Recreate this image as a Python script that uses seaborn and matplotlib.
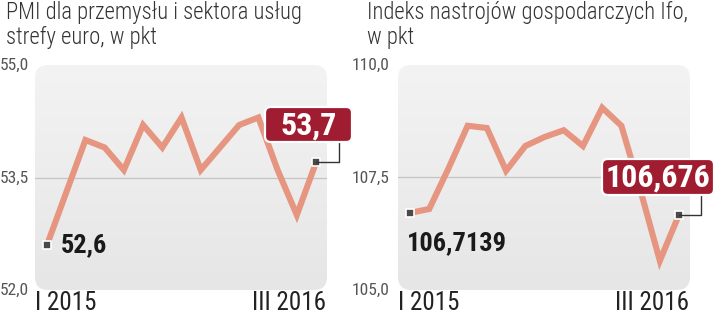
import matplotlib
matplotlib.use("Agg")
import matplotlib.pyplot as plt
from matplotlib.patches import FancyBboxPatch
from matplotlib import font_manager
import seaborn as sns
import pandas as pd
import numpy as np

# ---- data ----
months = list(range(15))  # I 2015 .. III 2016
pmi = [52.6, 53.3, 54.0, 53.9, 53.6, 54.2, 53.9, 54.3, 53.6, 53.9, 54.2, 54.3, 53.6, 53.0, 53.7]
ifo = [106.7139, 106.8, 107.7, 108.65, 108.6, 107.65, 108.2, 108.4, 108.55, 108.2, 109.05, 108.65, 107.2, 105.65, 106.676]
pmi_ticks = [52.0, 53.5, 55.0]
ifo_ticks = [105.0, 107.5, 110.0]
x_labels = ["I 2015", "III 2016"]
titles = ["PMI dla przemysłu i sektora usług\nstrefy euro, w pkt",
          "Indeks nastrojów gospodarczych Ifo,\nw pkt"]
first_labels = ["52,6", "106,7139"]
last_labels = ["53,7", "106,676"]

sns.set_theme(style="white")
names = {f.name for f in font_manager.fontManager.ttflist}
cands = ["Roboto Condensed", "Liberation Sans Narrow", "DejaVu Sans Condensed", "Roboto", "DejaVu Sans"]
FONT = [c for c in cands if c in names] or ["DejaVu Sans"]
CONDENSED = FONT[0] in ("Roboto Condensed", "Liberation Sans Narrow", "DejaVu Sans Condensed")
plt.rcParams["font.family"] = FONT
SC = 1.0 if CONDENSED else 0.85

LINE = "#e69680"
RED = "#a01c30"

W, H = 720, 314
fig = plt.figure(figsize=(W / 100, H / 100), dpi=100)


def fx(px):
    return px / W


def fy(py):
    return 1 - py / H


panels = [
    dict(x0=35, x1=327, vals=pmi, ticks=pmi_ticks, title=titles[0], title_x=6, tick_x=0,
         first=first_labels[0], last=last_labels[0],
         first_off=(10, 0), box=(265, 107, 352, 142), conn_x=339),
    dict(x0=398, x1=690, vals=ifo, ticks=ifo_ticks, title=titles[1], title_x=367, tick_x=352,
         first=first_labels[1], last=last_labels[1],
         first_off=(-2, -22), box=(602, 159, 714, 195), conn_x=701),
]

grad = np.linspace(0, 1, 256).reshape(-1, 1)
cmap = matplotlib.colors.LinearSegmentedColormap.from_list("bg", ["#e6e6e6", "#f3f3f3"])

for p in panels:
    ax = fig.add_axes([fx(p["x0"]), fy(290), fx(p["x1"] - p["x0"]), (290 - 65) / H])
    ax.set_facecolor("none")
    for s in ax.spines.values():
        s.set_visible(False)
    bg = FancyBboxPatch((0, 0), 1, 1, boxstyle="round,pad=0,rounding_size=0.045",
                        transform=ax.transAxes, facecolor="none", edgecolor="none",
                        zorder=0, mutation_aspect=292 / 225)
    ax.add_patch(bg)
    im = ax.imshow(grad, extent=(0, 1, 0, 1), transform=ax.transAxes, cmap=cmap,
                   origin="lower", aspect="auto", zorder=0, interpolation="bilinear")
    im.set_clip_path(bg)
    ax.set_xlim(-0.624, 14.57)
    ax.set_ylim(p["ticks"][0], p["ticks"][-1])
    ax.axhline(p["ticks"][1], color="#c4c4c4", lw=0.9, zorder=1)
    df = pd.DataFrame({"m": months, "v": p["vals"]})
    sns.lineplot(data=df, x="m", y="v", ax=ax, color=LINE, lw=4.4, zorder=3,
                 solid_joinstyle="miter", solid_capstyle="butt")
    ax.set_xticks([])
    ax.set_yticks([])
    ax.set_xlabel("")
    ax.set_ylabel("")
    ax.scatter([months[0], months[-1]], [p["vals"][0], p["vals"][-1]], marker="s", s=28,
               color="#4a4a4a", edgecolor="white", linewidth=1.2, zorder=5)
    ax.annotate(p["first"], (months[0], p["vals"][0]), xytext=p["first_off"],
                textcoords="offset points", ha="left", va="center",
                fontsize=19 * SC, fontweight="bold", color="#1a1a1a",
                family=FONT, zorder=6)
    for t, py in zip(p["ticks"], [290, 178, 65]):
        fig.text(fx(p["tick_x"]), fy(py), f"{t:.1f}".replace(".", ","), ha="left",
                 va="center", fontsize=12.5 * SC, color="#555555", family=FONT)
    fig.text(fx(p["x0"]), fy(303), x_labels[0], ha="left", va="center", fontsize=18 * SC,
             color="#222222", family=FONT)
    fig.text(fx(p["x1"] - 1), fy(303), x_labels[1], ha="right", va="center",
             fontsize=18 * SC, color="#222222", family=FONT)
    fig.text(fx(p["title_x"]), fy(1), p["title"], ha="left", va="top", fontsize=16.3 * SC,
             color="#333333", family=FONT, linespacing=1.1,
             fontweight="light" if CONDENSED else "normal")
    bx0, by0, bx1, by1 = p["box"]
    ex = months[-1]
    ey = p["vals"][-1]
    pt_px = ax.transData.transform((ex, ey))
    ptx = pt_px[0]
    pty = H - pt_px[1]
    fig.add_artist(plt.Line2D([fx(ptx), fx(p["conn_x"]), fx(p["conn_x"])],
                              [fy(pty), fy(pty), fy(by1)], color="#333333", lw=1.0,
                              zorder=4))
    box = FancyBboxPatch((fx(bx0), fy(by1)), fx(bx1 - bx0), (by1 - by0) / H,
                         boxstyle="round,pad=0,rounding_size=0.008",
                         transform=fig.transFigure, facecolor=RED, edgecolor="white",
                         linewidth=1.6, zorder=6, mutation_aspect=W / H)
    fig.add_artist(box)
    fig.text(fx((bx0 + bx1) / 2), fy((by0 + by1) / 2 + 1), p["last"], ha="center",
             va="center", fontsize=23 * SC, fontweight="bold", color="white", family=FONT,
             zorder=7)

fig.savefig("out.png", dpi=100)
